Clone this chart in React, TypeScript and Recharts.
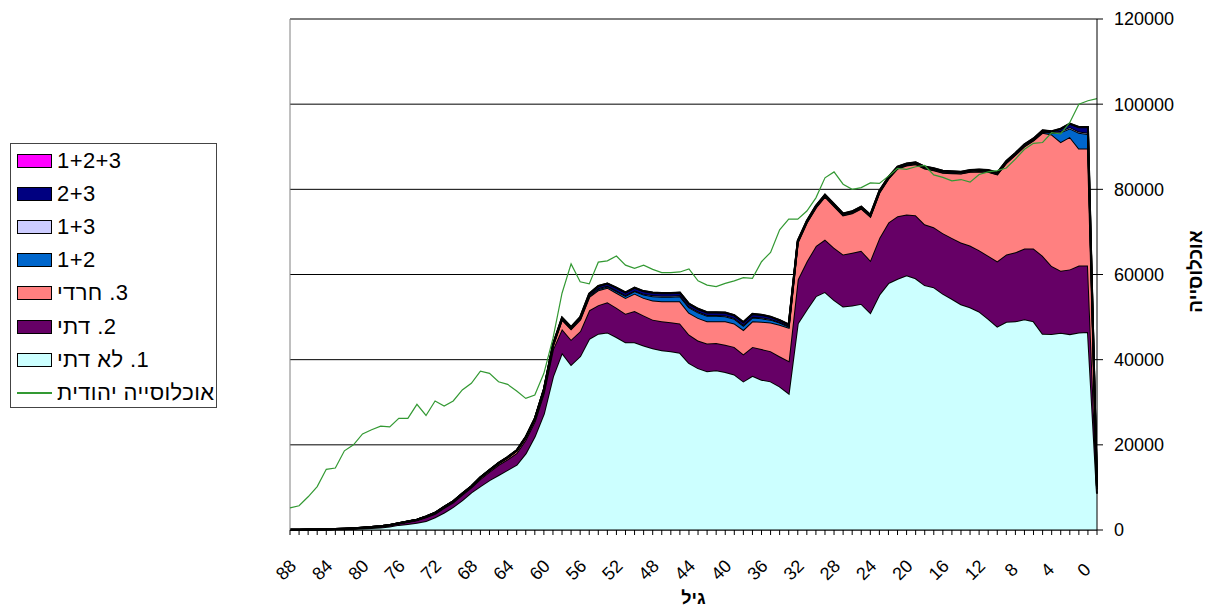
import React from 'react';
import { ComposedChart, Area, Line, XAxis, YAxis, CartesianGrid, ReferenceLine } from 'recharts';

// age categories, oldest on the left; the last (unlabelled) point is the drop at the right edge
const ageLabels = [
  '88', '87', '86', '85', '84', '83', '82', '81', '80', '79',
  '78', '77', '76', '75', '74', '73', '72', '71', '70', '69',
  '68', '67', '66', '65', '64', '63', '62', '61', '60', '59',
  '58', '57', '56', '55', '54', '53', '52', '51', '50', '49',
  '48', '47', '46', '45', '44', '43', '42', '41', '40', '39',
  '38', '37', '36', '35', '34', '33', '32', '31', '30', '29',
  '28', '27', '26', '25', '24', '23', '22', '21', '20', '19',
  '18', '17', '16', '15', '14', '13', '12', '11', '10', '9',
  '8', '7', '6', '5', '4', '3', '2', '1', '0', '',
];

const labeledAges = ['88', '84', '80', '76', '72', '68', '64', '60', '56', '52', '48', '44', '40', '36', '32', '28', '24', '20', '16', '12', '8', '4', '0'];
const yTicks = [0, 20000, 40000, 60000, 80000, 100000, 120000];

const nonReligious = [
  50, 60, 80, 100, 120, 150, 200, 280, 380, 480,
  600, 800, 1200, 1400, 1700, 2100, 3000, 4100, 5400, 7000,
  8800, 10300, 11700, 12900, 14100, 15300, 18000, 22000, 27300, 36000,
  41600, 38800, 40800, 44900, 46100, 46400, 45300, 44100, 44100, 43300,
  42700, 42200, 42000, 41600, 39200, 38000, 37300, 37500, 37100, 36500,
  34900, 36200, 35300, 34900, 33700, 32100, 48500, 51800, 54900, 55900,
  54000, 52500, 52700, 53100, 51000, 55300, 58000, 59000, 59800, 59100,
  57500, 57000, 55500, 54300, 53000, 52300, 51300, 49600, 47800, 48900,
  49000, 49500, 49000, 46100, 46000, 46300, 46000, 46400, 46500, 8500,
];

const religious = [
  20, 20, 30, 40, 50, 60, 80, 100, 150, 200,
  250, 300, 350, 500, 600, 900, 800, 1100, 1100, 1300,
  1200, 1700, 2000, 2400, 2500, 2800, 3200, 3500, 4900, 6400,
  5600, 5900, 5900, 6700, 6700, 7100, 6900, 6700, 7300, 7100,
  6700, 6800, 6800, 6900, 6700, 6500, 6500, 6400, 6400, 6500,
  6400, 6800, 7200, 7100, 7100, 7600, 10300, 11300, 11800, 12300,
  12300, 12200, 12400, 12500, 12300, 13300, 14200, 14700, 14300, 14800,
  14300, 14100, 14200, 14300, 14500, 14500, 14400, 14800, 15300, 15800,
  16200, 16600, 17100, 18300, 16000, 14600, 15200, 15700, 15600, 1000,
];

const haredi = [
  0, 0, 0, 0, 10, 10, 10, 20, 20, 30,
  40, 50, 50, 100, 100, 150, 200, 200, 200, 200,
  200, 300, 300, 350, 400, 500, 500, 500, 600, 800,
  2200, 2500, 2700, 3100, 3500, 3400, 3500, 3700, 4100, 4100,
  4500, 4700, 4900, 5200, 5100, 5300, 5200, 5100, 5500, 5500,
  5700, 6000, 6400, 6700, 7400, 7800, 8700, 9100, 9000, 10100,
  9800, 9200, 9300, 9900, 10300, 10600, 10300, 11200, 11500, 12000,
  13100, 13400, 14200, 15200, 16200, 17300, 18500, 19700, 20400, 21500,
  22900, 24000, 25400, 28900, 30900, 30200, 31100, 27500, 27500, 700,
];

const mixed12 = [
  0, 0, 0, 0, 0, 0, 0, 0, 0, 0,
  0, 0, 0, 0, 0, 0, 10, 10, 10, 10,
  20, 20, 20, 20, 30, 30, 30, 40, 50, 100,
  100, 100, 150, 200, 300, 300, 400, 500, 600, 800,
  1000, 1100, 1100, 1200, 1300, 1300, 1300, 1300, 1200, 1100,
  1000, 900, 800, 700, 500, 300, 150, 100, 100, 100,
  100, 100, 100, 100, 100, 100, 100, 100, 100, 100,
  100, 100, 100, 100, 100, 100, 100, 100, 100, 100,
  100, 100, 100, 200, 400, 2300, 2000, 3700, 3400, 0,
];

const mixed13 = [
  0, 0, 0, 0, 0, 0, 0, 0, 0, 0,
  0, 0, 0, 0, 0, 0, 10, 10, 10, 10,
  10, 10, 20, 20, 20, 20, 30, 30, 50, 80,
  100, 100, 100, 150, 150, 150, 150, 150, 150, 150,
  200, 200, 200, 200, 200, 200, 200, 200, 200, 200,
  200, 200, 200, 150, 150, 150, 100, 100, 100, 100,
  100, 100, 100, 100, 100, 100, 100, 100, 100, 100,
  100, 100, 100, 100, 100, 100, 100, 100, 100, 100,
  100, 100, 100, 100, 100, 300, 300, 300, 300, 0,
];

const mixed23 = [
  0, 0, 0, 0, 0, 0, 0, 0, 0, 0,
  0, 0, 10, 10, 10, 10, 20, 20, 30, 30,
  40, 40, 50, 50, 60, 70, 80, 100, 150, 200,
  250, 250, 300, 400, 500, 500, 600, 600, 600, 600,
  600, 600, 600, 600, 600, 600, 600, 600, 600, 600,
  600, 600, 600, 500, 400, 300, 200, 200, 200, 200,
  200, 200, 200, 200, 200, 200, 200, 200, 200, 200,
  200, 200, 200, 200, 200, 200, 200, 200, 200, 200,
  200, 200, 200, 200, 200, 500, 800, 1000, 1300, 0,
];

const mixed123 = [
  0, 0, 0, 0, 0, 0, 0, 0, 0, 0,
  0, 0, 0, 0, 0, 0, 0, 0, 0, 0,
  10, 10, 10, 20, 20, 20, 30, 30, 50, 50,
  50, 50, 50, 50, 50, 50, 50, 50, 50, 50,
  50, 50, 50, 50, 50, 50, 50, 50, 50, 50,
  50, 50, 50, 50, 50, 50, 50, 50, 50, 50,
  50, 50, 50, 50, 50, 50, 50, 50, 50, 50,
  50, 50, 50, 50, 50, 50, 50, 50, 50, 50,
  50, 50, 50, 50, 50, 50, 50, 50, 50, 0,
];

const jewishPopulation = [
  5200, 5700, 7800, 10200, 14250, 14550, 18600, 20000, 22550, 23550,
  24400, 24200, 26200, 26200, 29500, 26900, 30300, 29100, 30300, 32900,
  34450, 37300, 36800, 34800, 34200, 32650, 30900, 31700, 36800, 45000,
  55600, 62500, 58300, 57800, 62900, 63200, 64350, 62200, 61450, 62200,
  61200, 60450, 60450, 60600, 61300, 58500, 57500, 57150, 57900, 58500,
  59250, 59100, 63000, 65200, 70500, 73000, 73000, 74900, 78000, 82700,
  84100, 81200, 80000, 80400, 81500, 81400, 83100, 84900, 84700, 85300,
  85600, 83400, 82800, 82000, 82300, 81700, 83500, 84100, 84400, 85000,
  87100, 89400, 90800, 91000, 93300, 93000, 95700, 100000, 100800, 101300,
];

// stacked from the bottom up
const areaSeries = [
  { key: 'nonReligious', name: '1. לא דתי', color: '#CCFFFF' },
  { key: 'religious', name: '2. דתי', color: '#660066' },
  { key: 'haredi', name: '3. חרדי', color: '#FF8080' },
  { key: 'mixed12', name: '1+2', color: '#0066CC' },
  { key: 'mixed13', name: '1+3', color: '#CCCCFF' },
  { key: 'mixed23', name: '2+3', color: '#000080' },
  { key: 'mixed123', name: '1+2+3', color: '#FF00FF' },
];
const lineName = 'אוכלוסייה יהודית';
const lineColor = '#339933';

const rows = ageLabels.map((age, i) => ({
  age,
  nonReligious: nonReligious[i],
  religious: religious[i],
  haredi: haredi[i],
  mixed12: mixed12[i],
  mixed13: mixed13[i],
  mixed23: mixed23[i],
  mixed123: mixed123[i],
  population: jewishPopulation[i],
}));

const FONT = '"Liberation Sans", Arial, sans-serif';

const AgeTick = ({ x, payload }: any) => {
  if (!labeledAges.includes(String(payload.value))) return null;
  const cx = x - 4;
  const cy = 570;
  return (
    <text x={cx} y={cy} transform={`rotate(-45 ${cx} ${cy})`} textAnchor="middle" dominantBaseline="central"
      fontSize={18} fontFamily={FONT} fill="#000">
      {payload.value}
    </text>
  );
};

const XTitle = ({ viewBox }: any) => (
  <text x={viewBox.x + viewBox.width / 2} y={viewBox.y + 74} textAnchor="middle" fontSize={18} fontWeight="bold" fontFamily={FONT} fill="#000">
    גיל
  </text>
);

const YTitle = ({ viewBox }: any) => {
  const cx = viewBox.x + 98;
  const cy = viewBox.y + viewBox.height / 2 - 3;
  return (
    <text x={cx} y={cy} transform={`rotate(-90 ${cx} ${cy})`} textAnchor="middle" dominantBaseline="central"
      fontSize={19} fontWeight="bold" fontFamily={FONT} fill="#000">
      אוכלוסייה
    </text>
  );
};

const LegendBox = () => {
  const items = [...areaSeries].reverse();
  return (
    <div style={{ position: 'absolute', left: 10, top: 143, width: 207, height: 265, boxSizing: 'border-box', border: '1px solid #444', background: '#fff', fontFamily: FONT, fontSize: 22, letterSpacing: 0.4 }}>
      {items.map((s) => (
        <div key={s.key} style={{ display: 'flex', alignItems: 'center', height: 33.2 }}>
          <div style={{ width: 35, height: 14, marginLeft: 6, marginRight: 5, boxSizing: 'border-box', border: '1px solid #000', background: s.color, flexShrink: 0 }} />
          <span dir="rtl" style={{ whiteSpace: 'nowrap' }}>{s.name}</span>
        </div>
      ))}
      <div style={{ display: 'flex', alignItems: 'center', height: 33.2 }}>
        <div style={{ width: 35, height: 0, marginLeft: 6, marginRight: 5, borderTop: `2px solid ${lineColor}`, flexShrink: 0 }} />
        <span dir="rtl" style={{ whiteSpace: 'nowrap' }}>{lineName}</span>
      </div>
    </div>
  );
};

export default function App() {
  return (
    <div style={{ position: 'absolute', left: 0, top: 0, width: 1209, height: 607, background: '#fff', overflow: 'hidden' }}>
      <ComposedChart width={1209} height={607} data={rows} margin={{ top: 19, right: 12, left: 290, bottom: 17 }}>
        <CartesianGrid vertical={false} stroke="#000" strokeWidth={1} />
        <XAxis dataKey="age" scale="point" interval={0} height={60} tickSize={5}
          axisLine={{ stroke: '#000' }} tickLine={{ stroke: '#000' }} tick={<AgeTick />}
          label={{ content: XTitle }} />
        <YAxis orientation="right" width={100} domain={[0, 120000]} ticks={yTicks} interval={0} tickSize={6} tickMargin={11}
          axisLine={{ stroke: '#000' }} tickLine={{ stroke: '#000' }}
          tick={{ fontSize: 18, fill: '#000', fontFamily: FONT }}
          label={{ content: YTitle }} />
        <ReferenceLine x="88" stroke="#808080" />
        {areaSeries.map((s) => (
          <Area key={s.key} type="linear" dataKey={s.key} name={s.name} stackId="1" fill={s.color} fillOpacity={1}
            stroke="#000" strokeWidth={2} isAnimationActive={false} dot={false} activeDot={false} />
        ))}
        <Line type="linear" dataKey="population" name={lineName} stroke={lineColor} strokeWidth={1.2} dot={false}
          activeDot={false} isAnimationActive={false} />
      </ComposedChart>
      <LegendBox />
    </div>
  );
}
